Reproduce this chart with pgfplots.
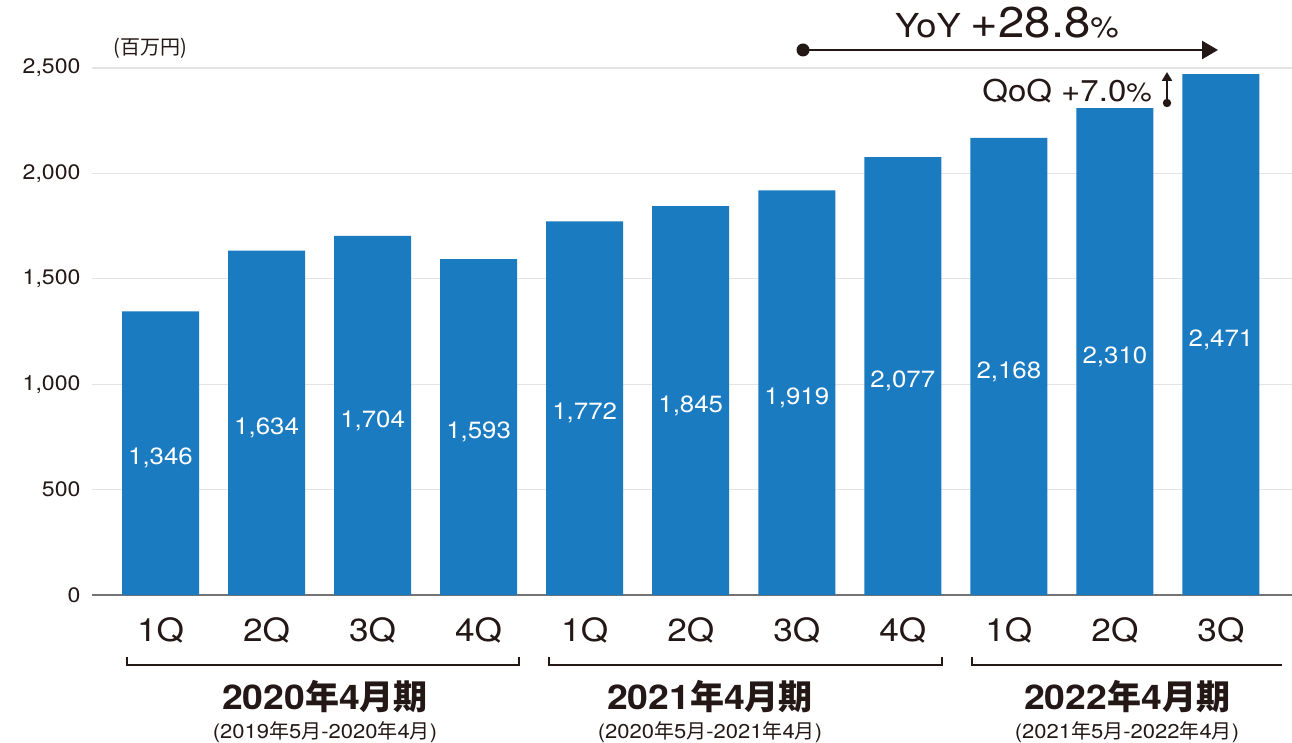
\documentclass[border=0pt]{standalone}
\usepackage{pgfplots}
\pgfplotsset{compat=1.18}
\usepackage{pgfplotstable}
\usepackage{fontspec}
\setmainfont{TeX Gyre Heros}[FakeStretch=1.1]
\newfontfamily\cj{Noto Sans CJK JP}
\newcommand{\nen}{{\cj 年}}
\newcommand{\tsu}{{\cj 月}}
\usetikzlibrary{arrows.meta}
\definecolor{barblue}{HTML}{1A7BC1}
\definecolor{ink}{HTML}{231815}
\definecolor{gridc}{HTML}{E3E3E3}
\pgfplotstableread{
x y
0 1346
1 1634
2 1704
3 1593
4 1772
5 1845
6 1919
7 2077
8 2168
9 2310
10 2471
}\data
\begin{document}
\begin{tikzpicture}
\begin{axis}[
  at={(92pt,147pt)}, anchor=south west, scale only axis,
  width=1200pt, height=527pt,
  xmin=-0.646, xmax=10.67, ymin=0, ymax=2500,
  ytick={0,500,...,2500},
  xtick={0,...,10},
  xticklabels={1Q,2Q,3Q,4Q,1Q,2Q,3Q,4Q,1Q,2Q,3Q},
  ymajorgrids, grid style={gridc, line width=1.2pt},
  axis x line*=bottom, axis y line*=left,
  x axis line style={draw=black!55, line width=1.3pt},
  y axis line style={draw=none},
  major tick length=0pt,
  /pgf/number format/1000 sep={,},
  /pgf/number format/assume math mode=true,
  yticklabel style={font=\fontsize{21}{24}\selectfont, text=ink, xshift=-8pt},
  xticklabel style={font=\fontsize{32}{36}\selectfont, text=ink, anchor=center, yshift=-35pt},
  clip=false,
]
\addplot[ybar, bar width=77pt, fill=barblue, draw=none] table[x=x, y=y] {\data};
\addplot[draw=none, mark=none, nodes near coords, point meta=explicit,
  every node near coord/.style={anchor=center, text=white, font=\fontsize{23.5}{26}\selectfont, yshift=-5pt}]
  table[x=x, y expr=\thisrow{y}/2, meta=y] {\data};
\end{axis}
% unit label
\node[text=ink, font=\fontsize{20}{24}\selectfont\cj] at (150pt,694pt) {(百万円)};
% YoY
\draw[ink, line width=2.6pt, -{Triangle[length=16pt,width=18pt]}] (803pt,692pt) -- (1218pt,692pt);
\fill[ink] (803pt,692pt) circle (6.5pt);
\node[text=ink, anchor=base west, inner sep=0pt] at (895pt,704pt) {\fontsize{33}{36}\selectfont YoY \fontsize{43}{46}\selectfont +28.8\fontsize{29}{30}\selectfont\%};
% QoQ
\node[text=ink, anchor=base east, inner sep=0pt] at (1152pt,640pt) {\fontsize{30}{34}\selectfont QoQ +7.0\fontsize{26}{28}\selectfont\%};
\draw[ink, line width=2.2pt, -{Triangle[length=9pt,width=10pt]}] (1167pt,639pt) -- (1167pt,670pt);
\fill[ink] (1167pt,639pt) circle (4.2pt);
% brackets
\draw[ink, line width=2pt] (127pt,85pt) -- (127pt,77pt) -- (519pt,77pt) -- (519pt,85pt);
\draw[ink, line width=2pt] (549pt,85pt) -- (549pt,77pt) -- (942pt,77pt) -- (942pt,85pt);
\draw[ink, line width=2pt] (972pt,85pt) -- (972pt,77pt) -- (1282pt,77pt);
% group labels
\node[text=ink, font=\fontsize{34}{38}\selectfont\bfseries] at (325pt,45pt) {2020\nen4\tsu{\cj 期}};
\node[text=ink, font=\fontsize{20}{24}\selectfont] at (325pt,10pt) {(2019\nen5\tsu-2020\nen4\tsu)};
\node[text=ink, font=\fontsize{34}{38}\selectfont\bfseries] at (710pt,45pt) {2021\nen4\tsu{\cj 期}};
\node[text=ink, font=\fontsize{20}{24}\selectfont] at (710pt,10pt) {(2020\nen5\tsu-2021\nen4\tsu)};
\node[text=ink, font=\fontsize{34}{38}\selectfont\bfseries] at (1127pt,45pt) {2022\nen4\tsu{\cj 期}};
\node[text=ink, font=\fontsize{20}{24}\selectfont] at (1127pt,10pt) {(2021\nen5\tsu-2022\nen4\tsu)};
\pgfresetboundingbox
\path[use as bounding box] (0pt,0pt) rectangle (1292pt,742pt);
\end{tikzpicture}
\end{document}
